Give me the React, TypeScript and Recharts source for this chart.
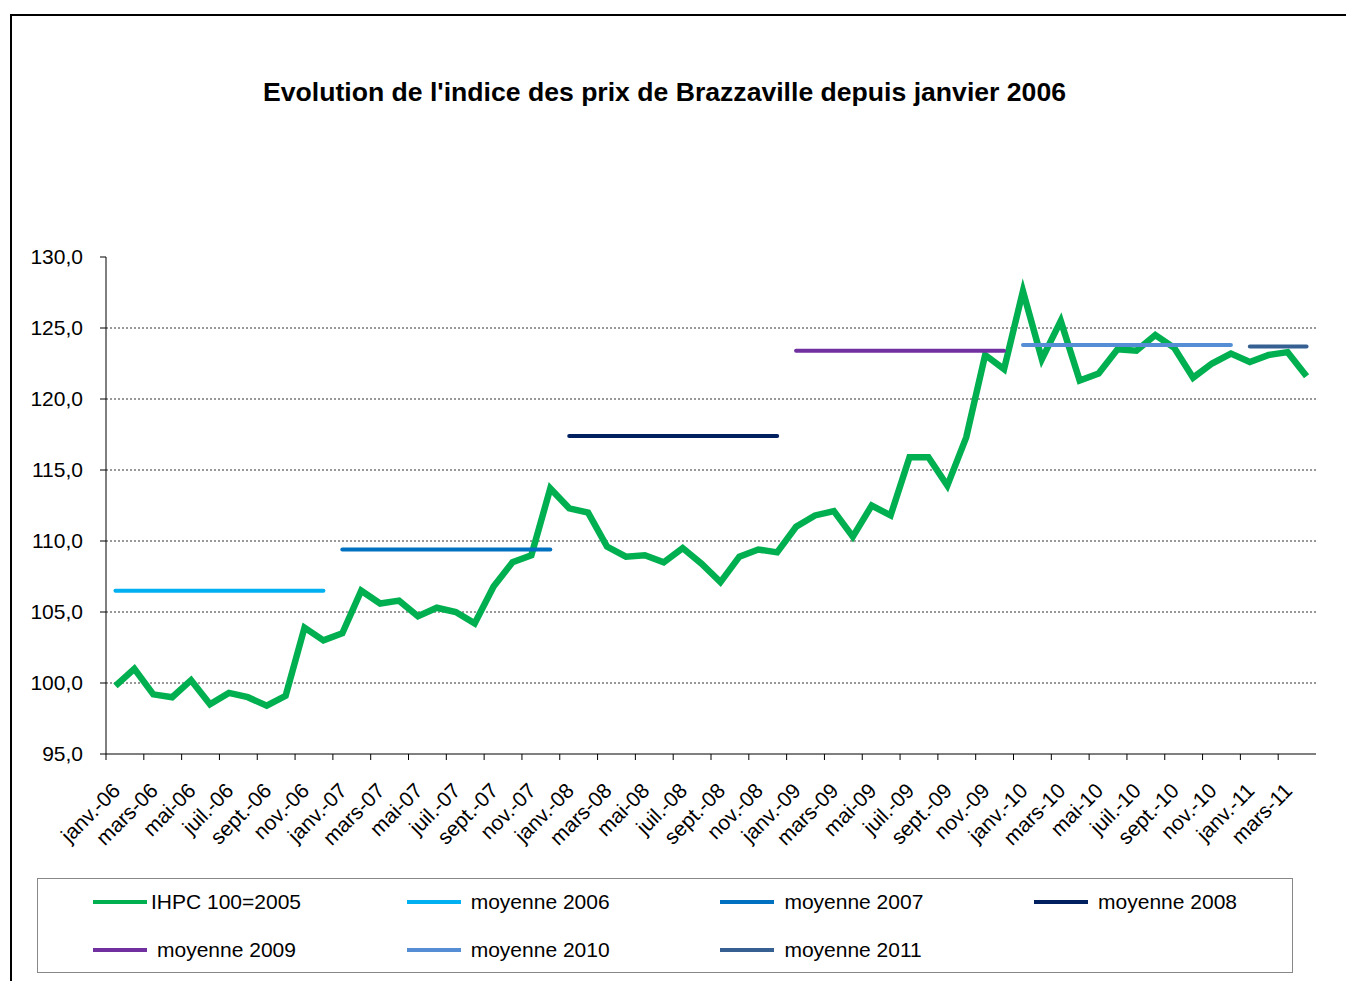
import { LineChart, Line, XAxis, YAxis, CartesianGrid } from "recharts";

// month labels, janv. 2006 to avr. 2011
const monthNames = ["janv.", "févr.", "mars", "avr.", "mai", "juin", "juil.", "août", "sept.", "oct.", "nov.", "déc."];
const yearSuffixes = ["06", "07", "08", "09", "10", "11"];
const months = yearSuffixes.flatMap((y) => monthNames.map((m) => `${m}-${y}`)).slice(0, 64);

const ihpc = [
  99.8, 101.0, 99.2, 99.0, 100.2, 98.5, 99.3, 99.0, 98.4, 99.1, 103.9, 103.0,
  103.5, 106.5, 105.6, 105.8, 104.7, 105.3, 105.0, 104.2, 106.8, 108.5, 109.0, 113.7,
  112.3, 112.0, 109.6, 108.9, 109.0, 108.5, 109.5, 108.4, 107.1, 108.9, 109.4, 109.2,
  111.0, 111.8, 112.1, 110.3, 112.5, 111.8, 115.9, 115.9, 113.9, 117.3, 123.1, 122.1,
  127.6, 122.8, 125.5, 121.3, 121.8, 123.5, 123.4, 124.5, 123.6, 121.5, 122.5, 123.2,
  122.6, 123.1, 123.3, 121.6,
];

const avgYears = ["2006", "2007", "2008", "2009", "2010", "2011"];
const averages = [106.5, 109.4, 117.4, 123.4, 123.8, 123.7];
const avgColors = ["#00B0F0", "#0070C0", "#002060", "#7030A0", "#558ED5", "#376092"];

const yTicks = [95, 100, 105, 110, 115, 120, 125, 130];
const gridValues = [100, 105, 110, 115, 120, 125];

const data = months.map((month, i) => {
  const row: Record<string, string | number> = { month, ihpc: ihpc[i] };
  const y = Math.floor(i / 12);
  row[`moy${avgYears[y]}`] = averages[y];
  return row;
});

const legendItems = [
  { label: "IHPC 100=2005", color: "#00B050" },
  ...avgYears.map((y, i) => ({ label: `moyenne ${y}`, color: avgColors[i] })),
];

const FONT = "'Liberation Sans', Arial, sans-serif";
const PLOT_W = 1210;
const HALF_BAND = PLOT_W / months.length / 2;

function MonthTick(props: any) {
  const { x, y, payload, index } = props;
  const left = x - HALF_BAND;
  const ax = x + 6;
  const ay = y + 38;
  return (
    <g>
      <line x1={left} y1={y} x2={left} y2={y + 6} stroke="#000" />
      {index === 62 && (
        <line x1={left + 4 * HALF_BAND} y1={y} x2={left + 4 * HALF_BAND} y2={y + 6} stroke="#000" />
      )}
      <text
        x={ax}
        y={ay}
        textAnchor="end"
        fontSize={21}
        fill="#000"
        fontFamily={FONT}
        transform={`rotate(-45, ${ax}, ${ay})`}
      >
        {payload.value}
      </text>
    </g>
  );
}

export default function App() {
  return (
    <div
      style={{
        position: "absolute",
        left: 0,
        top: 0,
        width: 1346,
        height: 981,
        overflow: "hidden",
        background: "#fff",
        fontFamily: FONT,
      }}
    >
      <div
        style={{
          position: "absolute",
          left: 10,
          top: 14,
          width: 1400,
          height: 1000,
          border: "2px solid #000",
        }}
      />
      <div
        style={{
          position: "absolute",
          left: 0,
          width: 1329,
          top: 76,
          textAlign: "center",
          fontWeight: "bold",
          fontSize: 26.6,
          lineHeight: "32px",
        }}
      >
        Evolution de l'indice des prix de Brazzaville depuis janvier 2006
      </div>

      <div style={{ position: "absolute", left: 0, top: 0 }}>
        <LineChart
          width={1346}
          height={981}
          data={data}
          margin={{ top: 257, right: 30, bottom: 127, left: 0 }}
        >
          <CartesianGrid
            vertical={false}
            horizontalValues={gridValues}
            stroke="#333"
            strokeDasharray="2 2"
          />
          <XAxis
            dataKey="month"
            interval={1}
            height={100}
            padding={{ left: HALF_BAND, right: HALF_BAND }}
            tickSize={0}
            tickMargin={0}
            tickLine={false}
            axisLine={{ stroke: "#000" }}
            tick={<MonthTick />}
          />
          <YAxis
            domain={[95, 130]}
            ticks={yTicks}
            width={106}
            tickSize={6}
            tickMargin={17}
            axisLine={{ stroke: "#000" }}
            tickLine={{ stroke: "#000" }}
            tick={{ fill: "#000", fontSize: 21, fontFamily: FONT }}
            tickFormatter={(v: number) => v.toFixed(1).replace(".", ",")}
          />
          <Line
            dataKey="ihpc"
            stroke="#00B050"
            strokeWidth={6.5}
            dot={false}
            isAnimationActive={false}
          />
          {avgYears.map((y, i) => (
            <Line
              key={y}
              dataKey={`moy${y}`}
              stroke={avgColors[i]}
              strokeWidth={4}
              strokeLinecap="round"
              dot={false}
              isAnimationActive={false}
            />
          ))}
        </LineChart>
      </div>

      <div
        style={{
          position: "absolute",
          left: 37,
          top: 878,
          width: 1256,
          height: 95,
          border: "1px solid #888",
          boxSizing: "border-box",
        }}
      >
        {legendItems.map((item, i) => (
          <div
            key={item.label}
            style={{
              position: "absolute",
              left: 55 + (i % 4) * 313.7,
              top: i < 4 ? 10 : 58,
              display: "flex",
              alignItems: "center",
              height: 26,
              fontSize: 21,
            }}
          >
            <span
              style={{
                display: "inline-block",
                width: 54,
                height: 4,
                background: item.color,
                marginRight: i === 0 ? 4 : 10,
              }}
            />
            {item.label}
          </div>
        ))}
      </div>
    </div>
  );
}
